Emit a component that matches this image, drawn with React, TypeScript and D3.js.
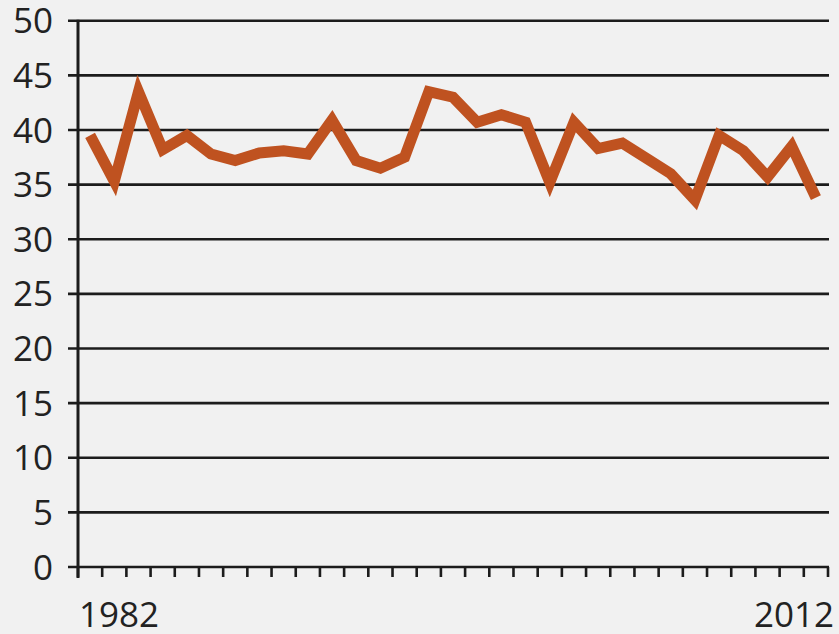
import * as d3 from "d3";

// years 1982..2012
const years: number[] = [
  1982, 1983, 1984, 1985, 1986, 1987, 1988, 1989, 1990, 1991, 1992,
  1993, 1994, 1995, 1996, 1997, 1998, 1999, 2000, 2001, 2002,
  2003, 2004, 2005, 2006, 2007, 2008, 2009, 2010, 2011, 2012,
];

const values: number[] = [
  39.5, 35.3, 43.5, 38.2, 39.5, 37.8, 37.2, 37.9, 38.1, 37.8, 40.9,
  37.2, 36.5, 37.5, 43.5, 43.0, 40.7, 41.4, 40.7, 35.2, 40.7,
  38.3, 38.8, 37.4, 36.0, 33.6, 39.5, 38.1, 35.7, 38.5, 33.8,
];

const yTicks: number[] = [0, 5, 10, 15, 20, 25, 30, 35, 40, 45, 50];
const xLabels: string[] = ["1982", "2012"];

const W = 839;
const H = 634;
const left = 78;
const right = 828;
const top = 20.7;
const bottom = 567;

export default function App() {
  const x = d3.scaleBand<number>().domain(years).range([left, right]).padding(0);
  const y = d3.scaleLinear().domain([0, 50]).range([bottom, top]);
  const bw = x.bandwidth();

  const line = d3
    .line<number>()
    .x((_, i) => (x(years[i]) as number) + bw / 2)
    .y((d) => y(d));

  // tick marks sit on the band edges
  const tickXs = years.map((yr) => x(yr) as number).concat([right]);

  return (
    <svg
      width={W}
      height={H}
      style={{ position: "absolute", left: 0, top: 0, display: "block" }}
      fontFamily="'Open Sans', 'Noto Sans', sans-serif"
    >
      <rect width={W} height={H} fill="#f1f1f1" />

      {/* horizontal grid lines */}
      {yTicks.map((t) => (
        <line
          key={t}
          x1={68}
          x2={right + 1}
          y1={y(t)}
          y2={y(t)}
          stroke="#1c1c1c"
          strokeWidth={2.6}
        />
      ))}

      {/* y axis */}
      <line x1={left} x2={left} y1={top - 1} y2={bottom + 11} stroke="#1c1c1c" strokeWidth={3} />

      {/* x ticks */}
      {tickXs.map((tx, i) => (
        <line
          key={i}
          x1={tx}
          x2={tx}
          y1={bottom}
          y2={bottom + 10}
          stroke="#1c1c1c"
          strokeWidth={2.6}
        />
      ))}

      {/* y labels */}
      {yTicks.map((t) => (
        <text
          key={t}
          x={53}
          y={y(t)}
          dy="0.36em"
          textAnchor="end"
          fontSize={35}
          fill="#222"
        >
          {t}
        </text>
      ))}

      {/* x labels */}
      <text x={79} y={627} fontSize={35} fill="#222" textAnchor="start">
        {xLabels[0]}
      </text>
      <text x={834} y={627} fontSize={35} fill="#222" textAnchor="end">
        {xLabels[1]}
      </text>

      <path
        d={line(values) ?? ""}
        fill="none"
        stroke="#bf5220"
        strokeWidth={11}
        strokeLinejoin="miter"
        strokeLinecap="butt"
      />
    </svg>
  );
}
